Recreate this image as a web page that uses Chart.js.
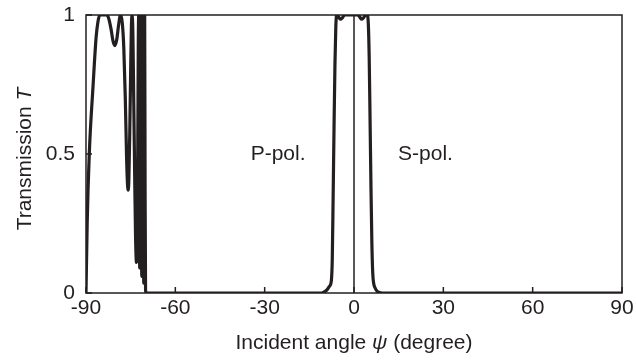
<!DOCTYPE html>
<html>
<head>
<meta charset="utf-8">
<script src="https://cdn.jsdelivr.net/npm/chart.js@4/dist/chart.umd.min.js"></script>
<style>
  html, body { margin: 0; padding: 0; background: #fff; }
  #wrap { width: 636px; height: 360px; }
</style>
</head>
<body>
<div id="wrap"><canvas id="transmission-chart" width="636" height="360"></canvas></div>
<script>
// P-pol. branch (negative incident angles)
const pAngle = [-90, -89.6, -88.9, -87.6, -86.6, -86.0, -85.4, -83.0, -82.3, -81.6, -80.9, -80.3, -79.7, -79.1, -78.6, -78.3,
    -77.8, -77.3, -76.8, -76.4, -76.1, -75.85, -75.6, -75.3, -75.0, -74.75, -74.5, -74.25, -73.95, -73.65, -73.35, -73.05,
    -72.8, -72.6, -72.45, -72.3, -72.15, -71.95, -71.8, -71.6, -71.45, -71.25, -71.1, -70.9, -70.75, -70.6, -70.45, -70.3,
    -70.15, -70.0, -69.8, -11.0, -10.0, -9.0, -8.2, -7.6, -7.3, -7.0, -6.7, -6.4, -6.1, -5.8, -5.3, -4.6, -3.9, -3.2, 0];
const pTrans = [0, 0.25, 0.5, 0.75, 0.92, 0.975, 1, 1, 0.985, 0.95, 0.905, 0.89, 0.91, 0.96, 0.995, 1,
    0.97, 0.88, 0.7, 0.5, 0.4, 0.37, 0.41, 0.58, 0.8, 0.96, 1, 0.93, 0.68, 0.42, 0.2, 0.11,
    0.22, 0.55, 0.88, 1, 0.4, 0.09, 0.45, 1, 0.4, 0.06, 0.45, 1, 0.4, 0.035, 0.5, 1,
    0.35, 0.01, 0, 0, 0.004, 0.012, 0.025, 0.045, 0.12, 0.35, 0.6, 0.82, 0.96, 1, 0.995, 0.985, 0.99, 1, 1];

// S-pol. branch (positive incident angles)
const sAngle = [0, 1.2, 1.8, 2.5, 3.2, 3.9, 4.4, 4.8, 5.1, 5.4, 5.7, 6.0, 6.3, 6.6, 7.1, 7.7, 8.5, 9.5, 90];
const sTrans = [1, 1, 0.995, 0.985, 0.99, 1, 1, 0.97, 0.85, 0.62, 0.38, 0.18, 0.07, 0.035, 0.018, 0.007, 0.002, 0, 0];

// thin divider at normal incidence
const dividerAngle = [0, 0];
const dividerTrans = [0, 1];

const xTicks = [-90, -60, -30, 0, 30, 60, 90];
const yTicks = [0, 0.5, 1];

const INK = '#231f20';
const FAMILY = '"Liberation Sans", Arial, Helvetica, sans-serif';

const toPoints = (xs, ys) => xs.map((v, i) => ({ x: v, y: ys[i] }));

// draws a run of text pieces, some of them italic, centred on (cx, cy)
function drawRich(ctx, parts, cx, cy, size) {
    const fonts = parts.map(p => (p[1] ? 'italic ' : '') + size + 'px ' + FAMILY);
    let total = 0;
    const widths = parts.map((p, i) => { ctx.font = fonts[i]; const w = ctx.measureText(p[0]).width; total += w; return w; });
    let x = cx - total / 2;
    ctx.textAlign = 'left';
    parts.forEach((p, i) => { ctx.font = fonts[i]; ctx.fillText(p[0], x, cy); x += widths[i]; });
}

const frameAndText = {
    id: 'frameAndText',
    afterDraw(chart) {
        const { ctx, chartArea: a, scales: { x, y } } = chart;
        ctx.save();
        ctx.strokeStyle = INK;
        ctx.lineWidth = 1.5;
        ctx.strokeRect(a.left, a.top, a.right - a.left, a.bottom - a.top);
        // tick marks pointing into the plot
        ctx.beginPath();
        xTicks.forEach(v => { const px = x.getPixelForValue(v); ctx.moveTo(px, a.bottom); ctx.lineTo(px, a.bottom - 6); });
        yTicks.forEach(v => { const py = y.getPixelForValue(v); ctx.moveTo(a.left, py); ctx.lineTo(a.left + 6, py); });
        ctx.stroke();

        ctx.fillStyle = INK;
        ctx.textBaseline = 'alphabetic';
        ctx.textAlign = 'left';
        ctx.font = '21px ' + FAMILY;
        ctx.fillText('P-pol.', x.getPixelForValue(-34.7), y.getPixelForValue(0.478));
        ctx.fillText('S-pol.', x.getPixelForValue(14.8), y.getPixelForValue(0.478));

        // axis titles
        drawRich(ctx, [['Incident angle ', false], ['\u03C8', true], [' (degree)', false]], (a.left + a.right) / 2, 349, 21);
        ctx.translate(31, (a.top + a.bottom) / 2 + 5);
        ctx.rotate(-Math.PI / 2);
        drawRich(ctx, [['Transmission ', false], ['T', true]], 0, 0, 21);
        ctx.restore();
    }
};

const lineStyle = { borderColor: INK, borderWidth: 3.2, pointRadius: 0, borderJoinStyle: 'round', cubicInterpolationMode: 'monotone' };

new Chart(document.getElementById('transmission-chart'), {
    type: 'line',
    data: {
        datasets: [
            { label: 'P-pol.', data: toPoints(pAngle, pTrans), ...lineStyle },
            { label: 'S-pol.', data: toPoints(sAngle, sTrans), ...lineStyle },
            { label: 'divider', data: toPoints(dividerAngle, dividerTrans), borderColor: INK, borderWidth: 1.5, pointRadius: 0 }
        ]
    },
    options: {
        responsive: false, animation: false,
        layout: { padding: { top: 15, right: 14, left: 0, bottom: 0 } },
        plugins: { legend: { display: false }, tooltip: { enabled: false } },
        scales: {
            x: {
                type: 'linear', min: -90, max: 90,
                afterBuildTicks: s => { s.ticks = xTicks.map(v => ({ value: v })); },
                afterFit: s => { s.height = 67; s.paddingLeft = 0; s.paddingRight = 0; },
                grid: { display: false, drawTicks: false }, border: { display: false },
                ticks: { color: INK, font: { family: FAMILY, size: 21 }, padding: 3, maxRotation: 0 }
            },
            y: {
                type: 'linear', min: 0, max: 1,
                afterBuildTicks: s => { s.ticks = yTicks.map(v => ({ value: v })); },
                afterFit: s => { s.width = 86; s.paddingTop = 0; s.paddingBottom = 0; },
                grid: { display: false, drawTicks: false }, border: { display: false },
                ticks: { color: INK, font: { family: FAMILY, size: 21 }, padding: 11, callback: v => String(v) }
            }
        }
    },
    plugins: [frameAndText]
});
</script>
</body>
</html>
